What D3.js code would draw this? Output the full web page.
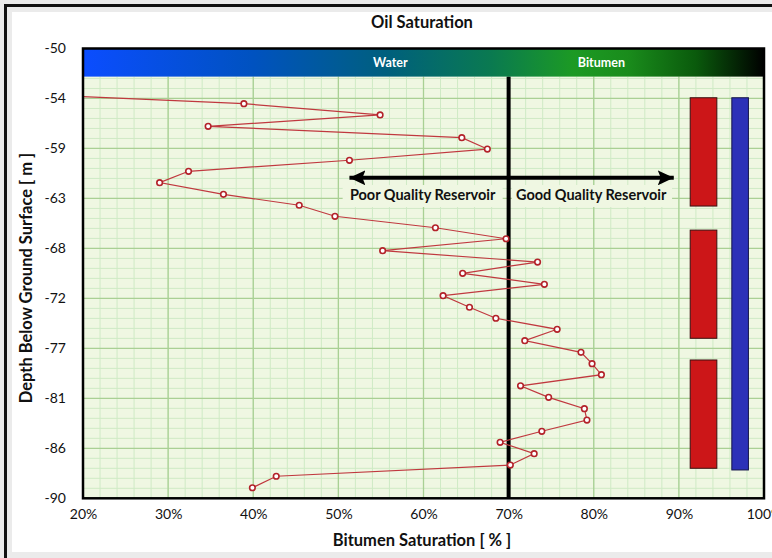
<!DOCTYPE html>
<html>
<head>
<meta charset="utf-8">
<script src="https://cdn.jsdelivr.net/npm/d3@7/dist/d3.min.js"></script>
<style>
  body { margin: 0; background: #ebebeb; }
  svg { display: block; }
  text { font-family: Lato, "Open Sans", sans-serif; fill: #111; }
</style>
</head>
<body>
<div id="chart"></div>
<script>
// Bitumen saturation (%) by sample depth (m)
var saturation = [8.4, 38.9, 54.9, 34.7, 64.5, 67.5, 51.3, 32.4, 29.0, 36.5, 45.4, 49.6, 61.4, 69.7,
  55.2, 73.4, 64.6, 74.2, 62.3, 65.4, 68.5, 75.7, 71.9, 78.5, 79.8, 80.9, 71.4, 74.7, 78.9, 79.2,
  73.9, 69.0, 73.0, 70.2, 42.7, 39.9]
var depth = [-53.90, -54.91, -55.91, -56.92, -57.93, -58.94, -59.94, -60.92, -61.93, -62.97, -63.94,
  -64.92, -65.94, -66.92, -67.98, -68.99, -69.99, -70.97, -71.98, -73.01, -73.99, -74.97, -75.98,
  -77.02, -78.03, -79.01, -80.00, -81.02, -82.03, -83.04, -84.04, -85.02, -86.03, -87.04, -88.04, -89.06]

// reservoir zones (red) and the whole interval (blue)
var zoneTop = [-54.38, -66.15, -77.70]
var zoneBase = [-64.01, -75.77, -87.33]
var intervalTop = -54.38
var intervalBase = -87.48

var xTicks = [20, 30, 40, 50, 60, 70, 80, 90, 100]
var xTickLabels = ["20%", "30%", "40%", "50%", "60%", "70%", "80%", "90%", "100%"]
var yTicks = [-50, -54.444, -58.889, -63.333, -67.778, -72.222, -76.667, -81.111, -85.556, -90]
var yTickLabels = ["-50", "-54", "-59", "-63", "-68", "-72", "-77", "-81", "-86", "-90"]

var cutoff = 70

var width = 772, height = 558
var margin = { top: 48.5, right: 8, bottom: 59.7, left: 83 }

var x = d3.scaleLinear().domain([20, 100]).range([margin.left, width - margin.right])
var y = d3.scaleLinear().domain([-50, -90]).range([margin.top, height - margin.bottom])
var bandBottom = -52.5   // depth where the colour legend band ends

var svg = d3.select("#chart").append("svg")
  .attr("width", width)
  .attr("height", height)

// Outer frame
svg.append("rect").attr("x", 0).attr("y", 0).attr("width", width).attr("height", height).attr("fill", "#ebebeb")
svg.append("rect").attr("x", 4).attr("y", 4).attr("width", width).attr("height", 3).attr("fill", "#111")
svg.append("rect").attr("x", 4).attr("y", 4).attr("width", 3).attr("height", height).attr("fill", "#111")
svg.append("rect").attr("x", 12).attr("y", 12).attr("width", width - 12).attr("height", 540).attr("fill", "#fff")

var x0 = x(20), x1 = x(100), yTop = y(bandBottom), yBot = y(-90)

// Plot background
svg.append("rect")
  .attr("x", x0).attr("y", y(-50))
  .attr("width", x1 - x0).attr("height", yBot - y(-50))
  .attr("fill", "#eff7e2")

// Minor grid
var minorX = d3.range(20, 100.01, 2)
var minorY = []
for (var i = 0; i < yTicks.length - 1; i++) {
  var step = (yTicks[i + 1] - yTicks[i]) / 5
  for (var k = 1; k < 5; k++) minorY.push(yTicks[i] + k * step)
}
var grid = svg.append("g").attr("class", "grid")
grid.selectAll(".mx").data(minorX).enter().append("line")
  .attr("x1", d => x(d)).attr("x2", d => x(d))
  .attr("y1", yTop).attr("y2", yBot)
  .attr("stroke", "#cfeac5").attr("stroke-width", 1)
grid.selectAll(".my").data(minorY.filter(d => d < bandBottom)).enter().append("line")
  .attr("x1", x0).attr("x2", x1)
  .attr("y1", d => y(d)).attr("y2", d => y(d))
  .attr("stroke", "#cfeac5").attr("stroke-width", 1)

// Major grid
grid.selectAll(".Mx").data(xTicks).enter().append("line")
  .attr("x1", d => x(d)).attr("x2", d => x(d))
  .attr("y1", yTop).attr("y2", yBot)
  .attr("stroke", "#a9d094").attr("stroke-width", 1.3)
grid.selectAll(".My").data(yTicks.filter(d => d < bandBottom)).enter().append("line")
  .attr("x1", x0).attr("x2", x1)
  .attr("y1", d => y(d)).attr("y2", d => y(d))
  .attr("stroke", "#a9d094").attr("stroke-width", 1.3)

// Reservoir quality annotation
var arrowDepth = -61.5
var labelDepth = -63.03
var notes = svg.append("g").attr("class", "notes")
var defs = svg.append("defs")
defs.append("marker")
  .attr("id", "head")
  .attr("viewBox", "0 0 16 15")
  .attr("refX", 16).attr("refY", 7.5)
  .attr("markerWidth", 16).attr("markerHeight", 15)
  .attr("markerUnits", "userSpaceOnUse")
  .attr("orient", "auto-start-reverse")
  .append("path").attr("d", "M0,0 L16,7.5 L0,15 L3,7.5 Z").attr("fill", "#000")

notes.append("rect")
  .attr("x", x(50.5)).attr("y", y(labelDepth) - 10)
  .attr("width", x(69.3) - x(50.5)).attr("height", 22)
  .attr("fill", "#eff7e2")
notes.append("rect")
  .attr("x", x(70.4)).attr("y", y(labelDepth) - 10)
  .attr("width", x(89.2) - x(70.4)).attr("height", 22)
  .attr("fill", "#eff7e2")
notes.append("line")
  .attr("x1", x(51.3)).attr("x2", x(89.4))
  .attr("y1", y(arrowDepth)).attr("y2", y(arrowDepth))
  .attr("stroke", "#000").attr("stroke-width", 4)
  .attr("marker-start", "url(#head)")
  .attr("marker-end", "url(#head)")
notes.append("text")
  .attr("x", x(59.9)).attr("y", y(labelDepth))
  .attr("dy", "0.35em")
  .attr("text-anchor", "middle")
  .attr("font-size", 14.5).attr("font-weight", "bold")
  .text("Poor Quality Reservoir")
notes.append("text")
  .attr("x", x(79.7)).attr("y", y(labelDepth))
  .attr("dy", "0.35em")
  .attr("text-anchor", "middle")
  .attr("font-size", 14.5).attr("font-weight", "bold")
  .text("Good Quality Reservoir")

// Cut-off line
svg.append("line")
  .attr("x1", x(cutoff)).attr("x2", x(cutoff))
  .attr("y1", yTop).attr("y2", yBot)
  .attr("stroke", "#000").attr("stroke-width", 4)

// Zones
svg.append("g").selectAll("rect").data(zoneTop).enter().append("rect")
  .attr("x", x(91.33)).attr("width", x(94.46) - x(91.33))
  .attr("y", d => y(d))
  .attr("height", (d, i) => y(zoneBase[i]) - y(d))
  .attr("fill", "#cc1618").attr("stroke", "#3a1010").attr("stroke-width", 1)
svg.append("rect")
  .attr("x", x(96.22)).attr("width", x(98.17) - x(96.22))
  .attr("y", y(intervalTop)).attr("height", y(intervalBase) - y(intervalTop))
  .attr("fill", "#2c31b8").attr("stroke", "#15154a").attr("stroke-width", 1)

// Saturation profile
var points = saturation.map((v, i) => ({ v: v, d: depth[i] }))
defs.append("clipPath").attr("id", "plotClip")
  .append("rect").attr("x", x0).attr("y", yTop).attr("width", x1 - x0).attr("height", yBot - yTop)

var profile = svg.append("g").attr("clip-path", "url(#plotClip)")
profile.append("path")
  .datum(points)
  .attr("fill", "none")
  .attr("stroke", "#c0393f")
  .attr("stroke-width", 1.2)
  .attr("d", d3.line().x(d => x(d.v)).y(d => y(d.d)))
profile.selectAll("circle").data(points.filter(p => p.v >= 20)).enter().append("circle")
  .attr("cx", d => x(d.v)).attr("cy", d => y(d.d))
  .attr("r", 2.8)
  .attr("fill", "#fff")
  .attr("stroke", "#b3222a")
  .attr("stroke-width", 1.6)

// Colour legend band
var grad = defs.append("linearGradient").attr("id", "band")
var stops = [[0, "#0b4dff"], [0.25, "#0052c0"], [0.45, "#00607c"], [0.6, "#0a7a50"],
  [0.72, "#1c9a24"], [0.8, "#1a8c1c"], [0.9, "#0a5a0c"], [1, "#000"]]
grad.selectAll("stop").data(stops).enter().append("stop")
  .attr("offset", d => d[0]).attr("stop-color", d => d[1])
svg.append("rect")
  .attr("x", x0).attr("y", y(-50))
  .attr("width", x1 - x0).attr("height", yTop - y(-50))
  .attr("fill", "url(#band)")
svg.append("text").attr("x", x(56.1)).attr("y", (y(-50) + yTop) / 2).attr("dy", "0.35em")
  .attr("text-anchor", "middle").attr("font-size", 12.5).attr("font-weight", "bold")
  .style("fill", "#fff").text("Water")
svg.append("text").attr("x", x(80.9)).attr("y", (y(-50) + yTop) / 2).attr("dy", "0.35em")
  .attr("text-anchor", "middle").attr("font-size", 12.5).attr("font-weight", "bold")
  .style("fill", "#fff").text("Bitumen")

// Frame
svg.append("rect")
  .attr("x", x0).attr("y", y(-50))
  .attr("width", x1 - x0).attr("height", yBot - y(-50))
  .attr("fill", "none").attr("stroke", "#000").attr("stroke-width", 2.5)

// Axes
var xAxis = svg.append("g")
  .attr("transform", `translate(0,${yBot})`)
  .call(d3.axisBottom(x).tickValues(xTicks).tickSize(0).tickPadding(11)
    .tickFormat((d, i) => xTickLabels[i]))
xAxis.select(".domain").remove()
xAxis.selectAll("text").attr("font-size", 14).attr("font-family", "Lato").style("fill", "#111")

var yAxis = svg.append("g")
  .attr("transform", `translate(${x0},0)`)
  .call(d3.axisLeft(y).tickValues(yTicks).tickSize(0).tickPadding(17)
    .tickFormat((d, i) => yTickLabels[i]))
yAxis.select(".domain").remove()
yAxis.selectAll("text").attr("font-size", 14).attr("font-family", "Lato").style("fill", "#111")

// Titles
svg.append("text")
  .attr("x", 422).attr("y", 22).attr("dy", "0.35em")
  .attr("text-anchor", "middle").attr("font-size", 16.5).attr("font-weight", "bold")
  .text("Oil Saturation")
svg.append("text")
  .attr("x", 422).attr("y", 540).attr("dy", "0.35em")
  .attr("text-anchor", "middle").attr("font-size", 16.5).attr("font-weight", "bold")
  .text("Bitumen Saturation [ % ]")
svg.append("text")
  .attr("transform", "translate(26,278) rotate(-90)")
  .attr("dy", "0.35em")
  .attr("text-anchor", "middle").attr("font-size", 16.5).attr("font-weight", "bold")
  .text("Depth Below Ground Surface [ m ]")
</script>
</body>
</html>
